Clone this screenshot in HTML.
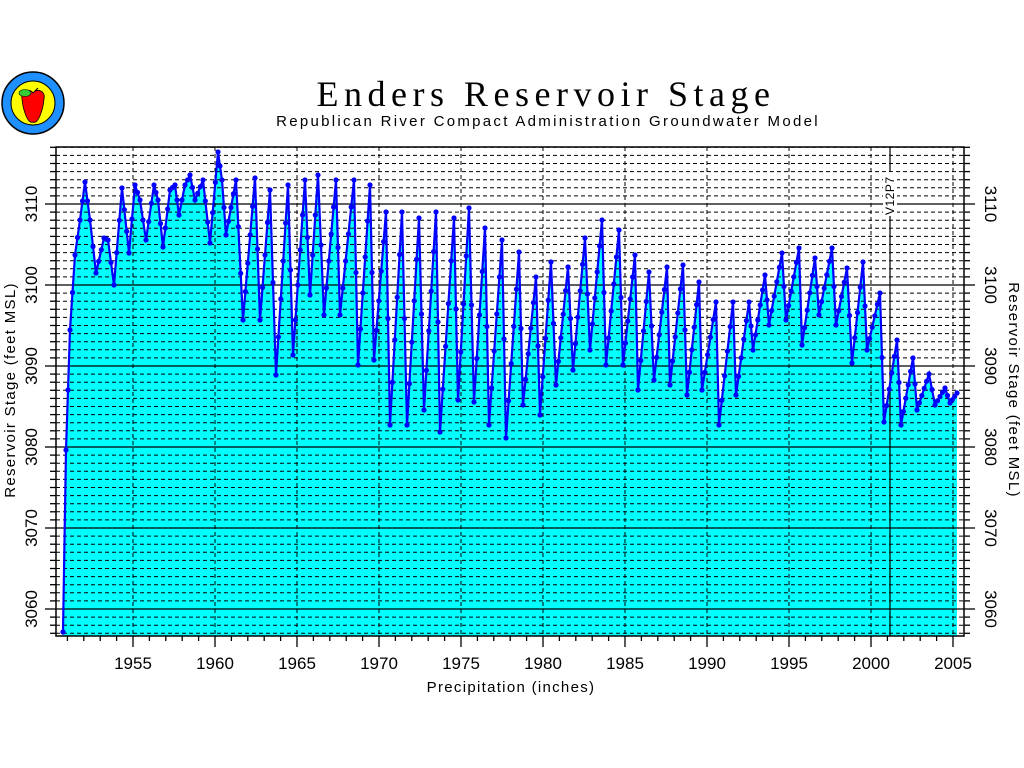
<!DOCTYPE html>
<html><head><meta charset="utf-8"><style>
html,body{margin:0;padding:0;background:#fff;width:1024px;height:768px;overflow:hidden}
svg{display:block}
text{font-family:"Liberation Sans",sans-serif;fill:#000}
</style></head><body>
<svg id="s" width="1024" height="768" viewBox="0 0 1024 768" xmlns="http://www.w3.org/2000/svg">
<g id="grid"></g>
<path id="fill" fill="#00ffff" stroke="none"/>
<g id="grid2"></g>
<line x1="890" y1="147" x2="890" y2="636" stroke="#000" stroke-width="1.2"/>
<path id="line" fill="none" stroke="#0000ff" stroke-width="2.2"/>
<g id="dots" fill="#0000ff"></g>
<rect x="56" y="147" width="908" height="489" fill="none" stroke="#000" stroke-width="1.5"/>
<g id="ticks" stroke="#000" stroke-width="1.3"></g>
<g id="labels" font-size="17"></g>
<text x="546" y="106" text-anchor="middle" style="font-family:'Liberation Serif',serif" font-size="36" letter-spacing="5.5">Enders Reservoir Stage</text>
<text x="548" y="126" text-anchor="middle" font-size="15" letter-spacing="2.3">Republican River Compact Administration Groundwater Model</text>
<text x="511" y="692" text-anchor="middle" font-size="15" letter-spacing="1.3">Precipitation (inches)</text>
<text transform="translate(15,390) rotate(-90)" text-anchor="middle" font-size="15" letter-spacing="1.3">Reservoir Stage (feet MSL)</text>
<text transform="translate(1009,390) rotate(90)" text-anchor="middle" font-size="15" letter-spacing="1.3">Reservoir Stage (feet MSL)</text>
<rect x="883" y="172" width="14" height="44" fill="#fff"/>
<text transform="translate(894,215) rotate(-90)" font-size="12" letter-spacing="0.5">V12P7</text>
<g>
<circle cx="33" cy="103" r="31" fill="#1e90ff" stroke="#000" stroke-width="1.5"/>
<circle cx="33" cy="103" r="22" fill="#ffff00" stroke="#000" stroke-width="1"/>
<path d="M22,99 C20,90 30,88 33,93 C36,88 46,90 44,99 C43,110 38,125 33,122 C28,125 23,110 22,99Z" fill="#ff0000" stroke="#000" stroke-width="0.8"/>
<ellipse cx="25" cy="93" rx="6" ry="3.5" fill="#33cc33" stroke="#000" stroke-width="0.6"/>
<line x1="33" y1="93" x2="38" y2="88" stroke="#000" stroke-width="1"/>
</g>
</svg>
<script>
var NS="http://www.w3.org/2000/svg";
function el(p,t,a){var e=document.createElementNS(NS,t);for(var k in a)e.setAttribute(k,a[k]);p.appendChild(e);return e;}
var L=56,R=964,T=147,B=636;
function yv(v){return 204+(3110-v)*8.1;}
function xv(y){return 133+(y-1955)*16.4;}
var g=document.getElementById('grid2'),tk=document.getElementById('ticks'),lb=document.getElementById('labels');
for(var v=3057;v<=3117;v++){var y=yv(v);if(y<T||y>B)continue;
 var major=(v%10==0);
 el(g,'line',{x1:L,x2:R,y1:y,y2:y,stroke:'#000','stroke-width':major?1.3:1,'stroke-dasharray':major?'':'4,3'});
 el(tk,'line',{x1:major?45:50,x2:L,y1:y,y2:y});
 el(tk,'line',{x1:R,x2:major?975:970,y1:y,y2:y});
 if(major){var t=el(lb,'text',{transform:'translate(37,'+y+') rotate(-90)','text-anchor':'middle'});t.textContent=v;
  var t2=el(lb,'text',{transform:'translate(985,'+y+') rotate(90)','text-anchor':'middle'});t2.textContent=v;}
}
for(var yr=1951;yr<=2005;yr++){var x=xv(yr);var major=(yr%5==0);
 el(tk,'line',{x1:x,x2:x,y1:B,y2:major?647:641});
 if(major){el(g,'line',{x1:x,x2:x,y1:T,y2:B,stroke:'#000','stroke-width':1,'stroke-dasharray':'4,3'});
  var t=el(lb,'text',{x:x,y:669,'text-anchor':'middle'});t.textContent=yr;}
}
var P=[[63,632],[66,450],[70,330],[75,255],[80,220],[85,182],[90,220],[96,273],[104,238],[108,240],[114,285],[122,188],[129,253],[135,185],[140,200],[146,240],[154,185],[158,200],[163,247],[170,190],[175,185],[179,215],[185,185],[190,175],[195,200],[203,180],[210,243],[218,152],[222,180],[226,235],[236,180],[243,320],[255,178],[260,320],[270,190],[276,375],[288,185],[293,355],[305,180],[310,295],[318,175],[324,315],[336,180],[340,315],[354,180],[358,365],[370,185],[374,360],[386,212],[390,425],[402,212],[407,425],[419,218],[424,410],[436,212],[440,432],[454,218],[458,400],[469,208],[474,402],[485,228],[489,425],[502,240],[506,438],[519,252],[523,405],[536,277],[540,415],[551,262],[556,385],[568,267],[573,370],[585,238],[590,350],[602,220],[606,365],[619,230],[623,365],[635,255],[638,390],[649,272],[654,380],[667,267],[670,385],[683,265],[687,395],[699,282],[702,390],[716,302],[719,425],[733,302],[736,395],[749,302],[753,350],[765,275],[769,325],[782,253],[786,320],[799,248],[802,345],[815,258],[819,315],[832,248],[836,325],[847,268],[852,363],[863,262],[867,350],[880,293],[884,422],[897,340],[901,425],[913,358],[917,410],[929,374],[935,405],[945,388],[950,403],[957,393]];
var d='M'+P.map(function(p){return p[0]+','+p[1]}).join(' L');
document.getElementById('line').setAttribute('d',d);
document.getElementById('fill').setAttribute('d',d+' L957,636 L63,636 Z');
var dg=document.getElementById('dots');
for(var i=0;i<P.length-1;i++){var a=P[i],b=P[i+1];var n=Math.max(1,Math.round((b[0]-a[0])/2.6));
 for(var j=0;j<n;j++){var f=j/n;el(dg,'circle',{cx:a[0]+(b[0]-a[0])*f,cy:a[1]+(b[1]-a[1])*f,r:2.6});}}
el(dg,'circle',{cx:957,cy:393,r:2.6});
</script>
</body></html>
